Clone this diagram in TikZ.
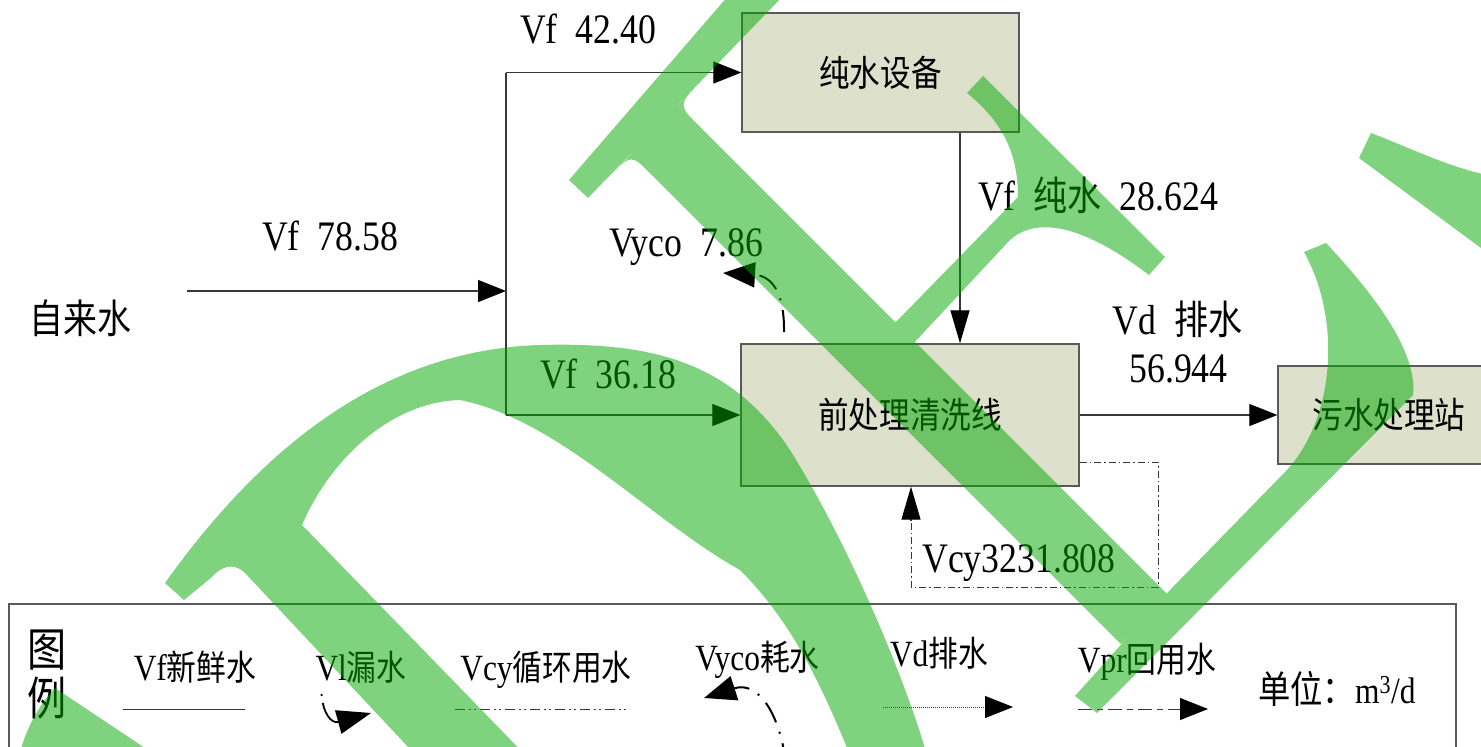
\documentclass[tikz,border=0pt]{standalone}
\usepackage{fontspec}
\newfontfamily\latf[FakeStretch=0.85]{Liberation Serif}
\newfontfamily\cjkf[FakeStretch=0.85]{Noto Sans CJK SC}
\usetikzlibrary{arrows.meta}
\definecolor{boxfill}{RGB}{221,224,203}
\definecolor{boxline}{RGB}{90,90,90}
\definecolor{wirec}{RGB}{55,55,55}
\definecolor{wm}{RGB}{0,169,0}
\newcommand{\labzh}[1]{{\fontsize{40}{46}\cjkf #1}}
\newcommand{\legzh}[1]{{\fontsize{35}{40}\cjkf #1}}
\newcommand{\gp}{\hspace{18pt}}
\tikzset{
 box/.style={draw=boxline, fill=boxfill, line width=1.3pt, inner sep=0pt, font=\fontsize{36}{40}\cjkf},
 lab/.style={inner sep=0pt, anchor=base, font=\fontsize{42}{48}\latf},
 leg/.style={inner sep=0pt, anchor=base, font=\fontsize{37}{42}\latf},
 wire/.style={draw=wirec, line width=1.1pt},
 arr/.style={wire, -{Triangle[length=28pt,width=22pt,color=black]}},
 arrv/.style={wire, -{Triangle[length=33pt,width=19pt,color=black]}},
 cyc/.style={draw=wirec, line width=1pt, dash pattern=on 7pt off 3pt on 1.5pt off 3pt},
 vyco/.style={black, line width=2pt, dash pattern=on 22pt off 10pt on 2pt off 10pt, -{Triangle[length=32pt,width=25pt]}},
 vl/.style={black, line width=1.8pt, dash pattern=on 2pt off 7pt on 40pt, -{Triangle[length=34pt,width=24pt]}},
 legsolid/.style={draw=wirec, line width=1pt},
 legcy/.style={draw=wirec, line width=1pt, dash pattern=on 10pt off 4pt on 2pt off 3pt on 2pt off 4pt},
 legvd/.style={draw=wirec, line width=0.8pt, dash pattern=on 1pt off 1pt, -{Triangle[length=28pt,width=22pt,color=black]}},
 legvpr/.style={draw=wirec, line width=1pt, dash pattern=on 14pt off 5pt on 6pt off 5pt, -{Triangle[length=28pt,width=22pt,color=black]}},
}
\begin{document}
\begin{tikzpicture}[x=1pt,y=-1pt]
\useasboundingbox (0,0) rectangle (1481,747);
\clip (0,0) rectangle (1481,747);
\fill[white] (0,0) rectangle (1481,747);

% boxes
\node[box, minimum width=277pt, minimum height=119pt] (pure) at (880.5,72.5) {纯水设备};
\node[box, minimum width=338pt, minimum height=142pt] (clean) at (910,415) {前处理清洗线};
\node[box, minimum width=222pt, minimum height=98pt] (sew) at (1389,415) {污水处理站};
\node[inner sep=0pt, font=\fontsize{40}{44}\cjkf] (tap) at (80,318.5) {自来水};

% connectors
\coordinate (src) at (187,291);
\coordinate (j) at (506,291);
\coordinate (jt) at (506,72.5);
\coordinate (jb) at (506,415);
\coordinate (vx) at (960,0);
\draw[arr] (src) -- (j);
\draw[wire] (jt) -- (jb);
\draw[arr] (jt) -- (pure.west);
\draw[arr] (jb) -- (clean.west);
\draw[arrv] (pure.south -| vx) -- (clean.north -| vx);
\draw[arr] (clean.east) -- (sew.west);
\coordinate (c1) at (1158,462);
\coordinate (c2) at (1158,587);
\coordinate (c3) at (911,587);
\draw[cyc] (clean.east |- c1) -- (c1) -- (c2) -- (c3) -- ([yshift=-33pt]c3 |- clean.south);
\draw[arrv] ([yshift=-34pt]c3 |- clean.south) -- (c3 |- clean.south);
\coordinate (vy0) at (784,332);
\coordinate (vy1) at (723,273);
\draw[vyco] (vy0) .. controls (784.5,296) and (774,276) .. (vy1);

% labels
\node[lab] (l1) at (588,43) {Vf\gp 42.40};
\node[lab] (l2) at (330,250) {Vf\gp 78.58};
\node[lab] (l3) at (686,256) {Vyco\gp 7.86};
\node[lab] (l4) at (1098,210) {Vf\gp\labzh{纯水}\gp 28.624};
\node[lab] (l5) at (1177.5,334) {Vd\gp\labzh{排水}};
\node[lab] (l6) at (1178.5,382) {56.944};
\node[lab] (l7) at (608,388) {Vf\gp 36.18};
\node[lab] (l8) at (1019,572) {Vcy3231.808};

% legend
\node[draw=boxline, line width=1.2pt, minimum width=1447pt, minimum height=170pt, inner sep=0pt] (legend) at (732.5,689) {};
\node[inner sep=0pt, align=center, font=\fontsize{46}{49}\cjkf] (tl) at (47,674.5) {图\\例};
\node[leg] (t1) at (195,680) {Vf\legzh{新鲜水}};
\node[leg] (t2) at (361,680) {Vl\legzh{漏水}};
\node[leg] (t3) at (546,680) {Vcy\legzh{循环用水}};
\node[leg] (t4) at (757.5,670) {Vyco\legzh{耗水}};
\node[leg] (t5) at (939,666) {Vd\legzh{排水}};
\node[leg] (t6) at (1147,672) {Vpr\legzh{回用水}};
\node[leg] (t7) at (1337,703) {{\fontsize{38}{42}\cjkf 单位：}m\textsuperscript{3}/d};

\coordinate (a1) at (123,709); \coordinate (a2) at (245,709);
\draw[legsolid] (a1) -- (a2);
\coordinate (b1) at (321.5,694); \coordinate (b2) at (371,713);
\draw[vl] (b1) .. controls (323,713) and (331,724) .. (b2);
\coordinate (c1l) at (455,709); \coordinate (c2l) at (630,709);
\draw[legcy] (c1l) -- (c2l);
\coordinate (d1) at (786,765); \coordinate (d2) at (704,698);
\draw[vyco] (d1) .. controls (781,718) and (760,680) .. (d2);
\coordinate (e1) at (883,707); \coordinate (e2) at (1013,707);
\draw[legvd] (e1) -- (e2);
\coordinate (f1) at (1078,709); \coordinate (f2) at (1208,709);
\draw[legvpr] (f1) -- (f2);

% watermark
\begin{scope}[transparency group, opacity=0.5]
\fill[wm] (569,180) -- (588,198) -- (785,-6) -- (754,-34) -- cycle;
\draw[wm, line width=68pt] (636,111) -- (1145,620);
\fill[wm] (678,105) -- (700,82) .. controls (678,105) .. (700.6,127.6) -- cycle;
\fill[wm] (631,154) -- (610,176) .. controls (631,154) .. (652,175) -- cycle;
\fill[wm] (1304,252) -- (1326,243) .. controls (1370,290) and (1418,350) .. (1413,395) -- (1097,713) -- (1075,696) -- (1170,590) -- (1285,472) .. controls (1335,420) and (1342,320) .. (1304,252) -- cycle;
\fill[wm] (1371,133) .. controls (1420,152) and (1450,168) .. (1500,178) -- (1500,262) -- (1359,158) -- cycle;
\fill[wm] (967,93) .. controls (1000,120) and (1018,150) .. (1018,197) -- (893,325) -- (912,345) -- (1010,240) .. controls (1030,222) and (1070,215) .. (1149,275) -- (1165,257) -- (983,76) -- cycle;
\fill[wm] (165,583) .. controls (260,450) and (380,350) .. (540,345) .. controls (650,342) and (730,360) .. (790,450) .. controls (840,530) and (900,660) .. (930,765) -- (854,765) .. controls (820,680) and (790,620) .. (740,570) .. controls (650,520) and (560,420) .. (460,400) .. controls (390,402) and (330,460) .. (302,525) -- (535,765) -- (425,765) -- (245,573) .. controls (235,563) and (222,565) .. (212,577) -- (184,600) -- cycle;
\fill[wm] (55,688) -- (163,760) -- (18,760) .. controls (25,730) and (38,706) .. (55,688) -- cycle;
\end{scope}
\end{tikzpicture}
\end{document}
